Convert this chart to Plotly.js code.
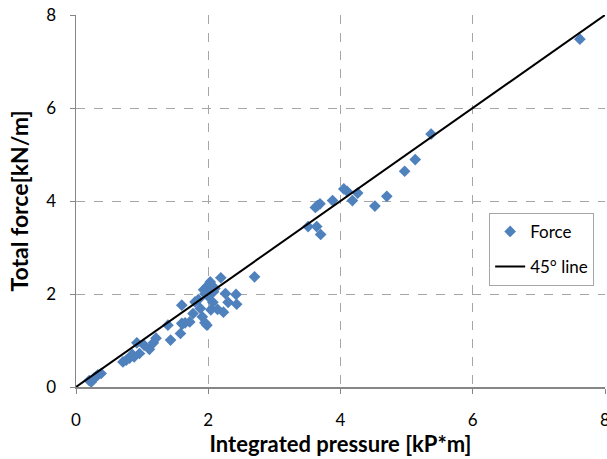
<!DOCTYPE html>
<html>
<head>
<meta charset="utf-8">
<script src="https://cdn.plot.ly/plotly-3.0.1.min.js"></script>
<style>html,body{margin:0;padding:0;background:#fff}#chart{width:607px;height:459px}</style>
</head>
<body>
<div id="chart"></div>
<script>
var forceX = [7.62, 5.37, 5.13, 4.97, 4.70, 4.52, 4.26, 4.18, 4.10, 4.05, 3.88, 3.69, 3.65, 3.62, 3.51, 3.64, 3.70,
  2.70, 2.19, 2.03, 1.98, 1.93, 2.05, 2.08, 2.26, 2.42, 2.30, 2.43, 2.23, 2.14, 2.04, 2.07, 1.98, 1.95, 1.60, 1.80, 1.77, 1.72, 1.65, 1.60, 1.88, 1.91, 2.00, 2.10, 1.85, 1.95, 2.02,
  1.61, 1.58, 1.43, 1.39, 1.21, 1.17, 1.11, 1.03, 0.92, 0.96, 0.88, 0.81, 0.71, 0.76, 0.85, 0.30, 0.38, 0.25, 0.23, 0.33, 0.28, 0.20];
var forceY = [7.48, 5.44, 4.89, 4.64, 4.10, 3.89, 4.17, 4.01, 4.21, 4.26, 4.01, 3.94, 3.90, 3.86, 3.45, 3.45, 3.28,
  2.37, 2.35, 2.26, 2.16, 2.09, 2.16, 2.05, 2.01, 1.99, 1.82, 1.78, 1.61, 1.67, 1.66, 1.82, 1.33, 1.38, 1.76, 1.83, 1.58, 1.40, 1.38, 1.37, 1.69, 1.51, 1.95, 2.12, 1.88, 2.00, 2.22,
  1.35, 1.15, 1.01, 1.33, 1.05, 0.95, 0.81, 0.90, 0.95, 0.72, 0.65, 0.62, 0.54, 0.58, 0.70, 0.22, 0.29, 0.15, 0.11, 0.26, 0.20, 0.14];
var lineX = [0, 8];
var lineY = [0, 8];
var tickVals = [0, 2, 4, 6, 8];

var font = "Lato, 'Open Sans', sans-serif";
var traces = [
  {x: forceX, y: forceY, type: 'scatter', mode: 'markers', name: 'Force', legendgroup: 'a',
   marker: {symbol: 'diamond', size: 9, color: '#4F81BD'}, cliponaxis: false},
  {x: lineX, y: lineY, type: 'scatter', mode: 'lines', name: '45° line', legendgroup: 'b',
   line: {color: '#000000', width: 2}}
];
var axisBase = {
  range: [0, 8], tickvals: tickVals, showgrid: true, gridcolor: '#a6a6a6', griddash: 'dash', gridwidth: 1,
  zeroline: false, showline: true, linecolor: '#868686', linewidth: 1.5, ticklabeloverflow: 'allow',
  ticks: 'outside', ticklen: 5, tickcolor: '#868686', tickfont: {family: font, size: 17, color: '#000'}
};
var layout = {
  width: 607, height: 459,
  margin: {l: 76, r: 2, t: 15, b: 72},
  paper_bgcolor: '#fff', plot_bgcolor: '#fff',
  showlegend: true,
  xaxis: Object.assign({}, axisBase, {ticklabelstandoff: 12,
    title: {text: 'Integrated pressure [kP*m]', font: {family: font, size: 22, color: '#000', weight: 'bold'}, standoff: 6}}),
  yaxis: Object.assign({}, axisBase, {ticklabelstandoff: 10,
    title: {text: 'Total force[kN/m]', font: {family: font, size: 23, color: '#000', weight: 'bold'}, standoff: 11}}),
  legend: {x: 0.781, y: 0.468, xanchor: 'left', yanchor: 'top', bgcolor: '#fff', bordercolor: '#a6a6a6', borderwidth: 1,
           font: {family: font, size: 17, color: '#000'}, tracegroupgap: 10}
};
Plotly.newPlot('chart', traces, layout, {displayModeBar: false, staticPlot: true});
</script>
</body>
</html>
